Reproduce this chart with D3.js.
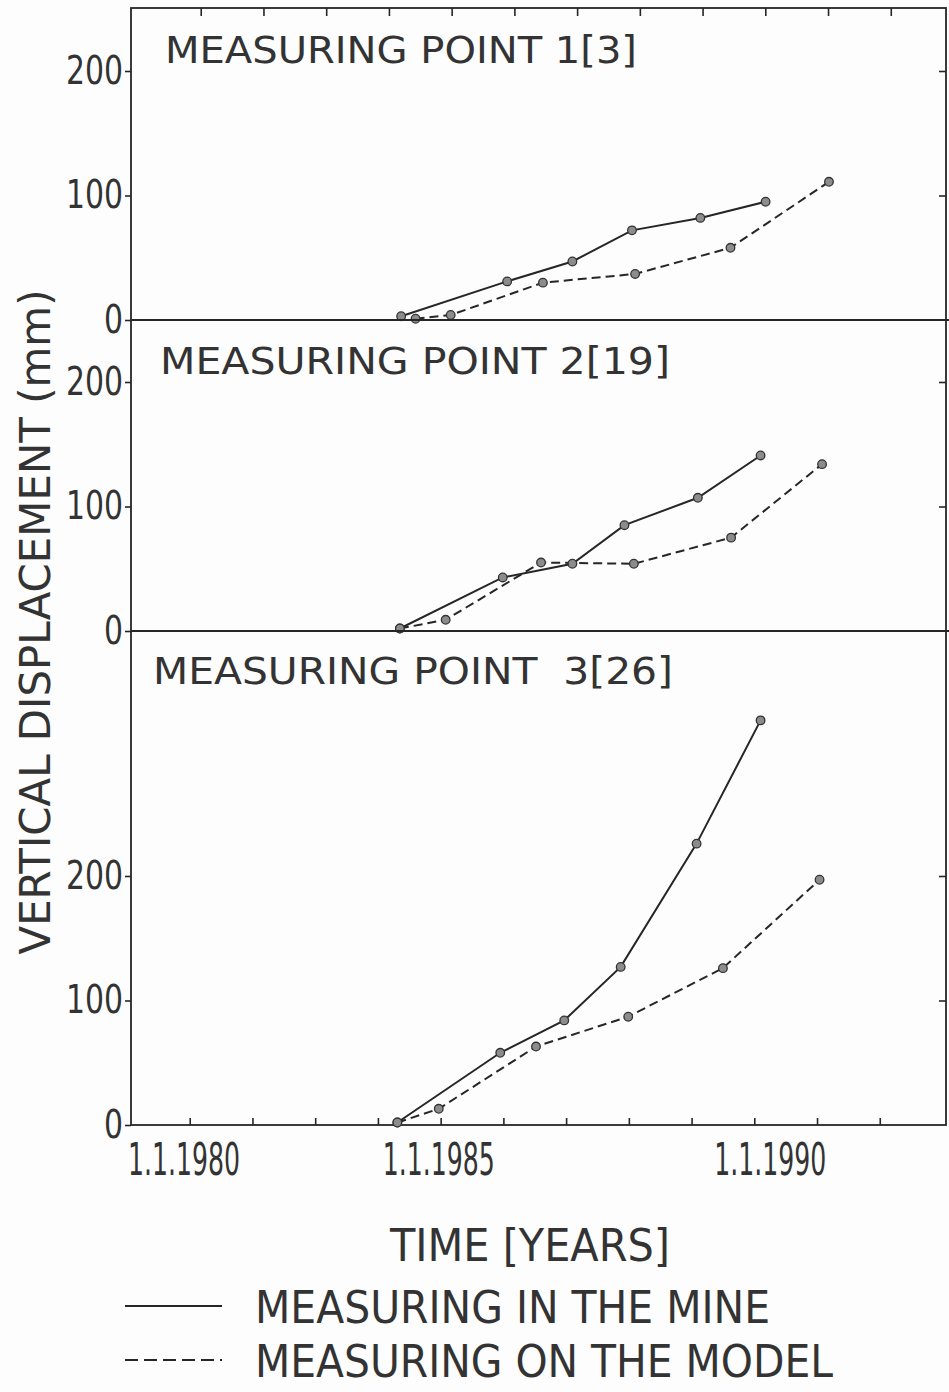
<!DOCTYPE html>
<html>
<head>
<meta charset="utf-8">
<script src="https://cdn.jsdelivr.net/npm/d3@7"></script>
<style>
  body { margin: 0; background: #fdfdfd; }
  text { font-family: 'Liberation Sans Narrow', 'DejaVu Sans Condensed', sans-serif; fill: #333; }
</style>
</head>
<body>
<svg id="chart" width="949" height="1392"></svg>
<script>
// values (years as decimal, displacement in mm)
var mineYears1 = [1984.37, 1986.06, 1987.10, 1988.05, 1989.14, 1990.18];
var mineValues1 = [3, 31, 47, 72, 82, 95];
var modelYears1 = [1984.60, 1985.16, 1986.63, 1988.10, 1989.62, 1991.19];
var modelValues1 = [1, 4, 30, 37, 58, 111];

var mineYears2 = [1984.35, 1985.99, 1987.10, 1987.93, 1989.10, 1990.10];
var mineValues2 = [2, 43, 54, 85, 107, 141];
var modelYears2 = [1984.35, 1985.08, 1986.60, 1988.08, 1989.63, 1991.08];
var modelValues2 = [2, 9, 55, 54, 75, 134];

var mineYears3 = [1984.31, 1985.95, 1986.97, 1987.87, 1989.08, 1990.10];
var mineValues3 = [2, 58, 84, 127, 226, 325];
var modelYears3 = [1984.31, 1984.97, 1986.52, 1987.99, 1989.50, 1991.04];
var modelValues3 = [2, 13, 63, 87, 126, 197];

var panelTitles = ["MEASURING POINT 1[3]", "MEASURING POINT 2[19]", "MEASURING POINT  3[26]"];
var yTickValues = [0, 100, 200];
var yearTicks = d3.range(1981, 1993);
var yearLabels = [1980, 1985, 1990];
var legendLabels = ["MEASURING IN THE MINE", "MEASURING ON THE MODEL"];

// layout
var frameL = 131, frameR = 946, frameT = 8, frameB = 1125;
var pxPerMm = 1.245;
var panels = [
    {top: 8, bottom: 320, tx: 165, ty: 63, tw: 472},
    {top: 320, bottom: 631, tx: 160, ty: 374, tw: 510},
    {top: 631, bottom: 1125, tx: 153, ty: 684, tw: 520}
];
var labelShift = {1980: 57, 1985: -2, 1990: 16};

var series = [
    {mine: [mineYears1, mineValues1], model: [modelYears1, modelValues1]},
    {mine: [mineYears2, mineValues2], model: [modelYears2, modelValues2]},
    {mine: [mineYears3, mineValues3], model: [modelYears3, modelValues3]}
];

var svg = d3.select("#chart");
var ink = "#262626";

var x = d3.scaleLinear().domain([1980, 1993]).range([127, 942.5]);

function zipPts(pair) {
    return pair[0].map(function(d, i) { return {x: d, y: pair[1][i]}; });
}

// frame
svg.append("rect")
    .attr("x", frameL).attr("y", frameT)
    .attr("width", frameR - frameL).attr("height", frameB - frameT)
    .attr("fill", "none").attr("stroke", ink).attr("stroke-width", 1.8);

panels.forEach(function(p, i) {
    var y = d3.scaleLinear()
        .domain([0, (p.bottom - p.top) / pxPerMm])
        .range([p.bottom, p.top]);

    if (i > 0) {
        svg.append("line")
            .attr("x1", frameL).attr("x2", 949)
            .attr("y1", p.top).attr("y2", p.top)
            .attr("stroke", ink).attr("stroke-width", 2);
    }

    var la = svg.append("g")
        .attr("transform", "translate(" + frameL + ",0)")
        .call(d3.axisLeft(y).tickValues(yTickValues).tickSize(6).tickPadding(2));
    la.select(".domain").remove();
    la.selectAll("line").attr("stroke", ink).attr("stroke-width", 1.6);
    la.selectAll("text")
        .style("font-size", "39px").attr("fill", "#333")
        .attr("textLength", function(d) { return d === 0 ? 19 : 57; })
        .attr("lengthAdjust", "spacingAndGlyphs");

    var ra = svg.append("g")
        .attr("transform", "translate(" + frameR + ",0)")
        .call(d3.axisRight(y).tickValues([100, 200]).tickSize(-7).tickFormat(""));
    ra.select(".domain").remove();
    ra.selectAll("line").attr("stroke", ink).attr("stroke-width", 1.6);

    svg.append("text")
        .attr("x", p.tx).attr("y", p.ty)
        .attr("textLength", p.tw).attr("lengthAdjust", "spacingAndGlyphs")
        .style("font-size", "37px").style("white-space", "pre")
        .text(panelTitles[i]);

    var line = d3.line()
        .x(function(d) { return x(d.x); })
        .y(function(d) { return y(d.y); });

    var mine = zipPts(series[i].mine);
    var model = zipPts(series[i].model);

    svg.append("path").datum(model)
        .attr("d", line).attr("fill", "none")
        .attr("stroke", ink).attr("stroke-width", 2)
        .attr("stroke-dasharray", "9,5");
    svg.append("path").datum(mine)
        .attr("d", line).attr("fill", "none")
        .attr("stroke", ink).attr("stroke-width", 2);

    svg.append("g").selectAll("circle")
        .data(mine.concat(model))
        .enter().append("circle")
        .attr("cx", function(d) { return x(d.x); })
        .attr("cy", function(d) { return y(d.y); })
        .attr("r", 4.3)
        .attr("fill", "#8c8c8c")
        .attr("stroke", "#333")
        .attr("stroke-width", 1.3);
});

// time axis
var ba = svg.append("g")
    .attr("transform", "translate(0," + frameB + ")")
    .call(d3.axisBottom(x).tickValues(yearTicks).tickSize(-7).tickFormat(""));
ba.select(".domain").remove();
ba.selectAll("line").attr("stroke", ink).attr("stroke-width", 1.6);

var ta = svg.append("g")
    .attr("transform", "translate(11," + frameT + ")")
    .call(d3.axisTop(x).tickValues(yearTicks).tickSize(-8).tickFormat(""));
ta.select(".domain").remove();
ta.selectAll("line").attr("stroke", ink).attr("stroke-width", 1.6);

svg.append("g").selectAll("text")
    .data(yearLabels)
    .enter().append("text")
    .attr("x", function(d) { return x(d) + labelShift[d]; })
    .attr("y", 1175)
    .attr("text-anchor", "middle")
    .attr("textLength", 112).attr("lengthAdjust", "spacingAndGlyphs")
    .style("font-size", "44px")
    .text(function(d) { return "1.1." + d; });

svg.append("text")
    .attr("x", 530).attr("y", 1261)
    .attr("text-anchor", "middle")
    .attr("textLength", 280).attr("lengthAdjust", "spacingAndGlyphs")
    .style("font-size", "45px")
    .text("TIME [YEARS]");

svg.append("text")
    .attr("transform", "translate(50,622) rotate(-90)")
    .attr("text-anchor", "middle")
    .attr("textLength", 665).attr("lengthAdjust", "spacingAndGlyphs")
    .style("font-size", "43px")
    .text("VERTICAL DISPLACEMENT (mm)");

// legend
var legendY = [1306, 1360];
var legendW = [515, 578];
legendLabels.forEach(function(lbl, i) {
    svg.append("line")
        .attr("x1", 125).attr("x2", 222)
        .attr("y1", legendY[i]).attr("y2", legendY[i])
        .attr("stroke", ink).attr("stroke-width", 2)
        .attr("stroke-dasharray", i === 1 ? "13,6" : null);
    svg.append("text")
        .attr("x", 255).attr("y", legendY[i] + 17)
        .attr("textLength", legendW[i]).attr("lengthAdjust", "spacingAndGlyphs")
        .style("font-size", "45px")
        .text(lbl);
});
</script>
</body>
</html>
